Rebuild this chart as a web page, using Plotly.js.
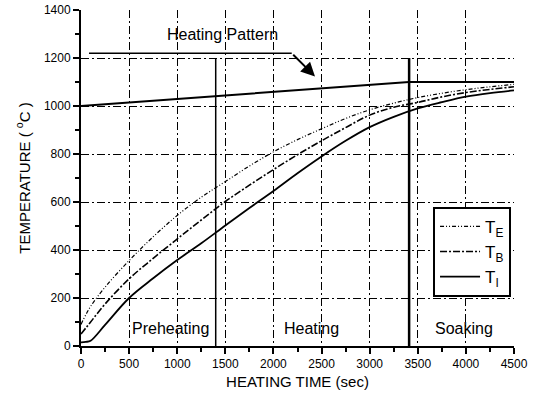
<!DOCTYPE html>
<html>
<head>
<meta charset="utf-8">
<script src="https://cdn.plot.ly/plotly-3.0.1.min.js"></script>
<style>
  html, body { margin: 0; padding: 0; background: #fff; }
  #chart { width: 536px; height: 395px; }
</style>
</head>
<body>
<div id="chart"></div>
<script>
// Heating time (s)
const time = [0, 50, 100, 250, 500, 750, 1000, 1250, 1500, 1750, 2000, 2250, 2500, 2750, 3000, 3250, 3500, 3750, 4000, 4250, 4500];
// Temperatures (deg C) at edge, body and interior
const tempE = [90, 130, 165, 245, 356, 455, 544, 620, 685, 750, 809, 860, 905, 948, 984, 1012, 1035, 1053, 1068, 1080, 1090];
const tempB = [50, 75, 100, 175, 280, 365, 446, 525, 602, 670, 735, 797, 855, 910, 962, 995, 1015, 1038, 1056, 1069, 1080];
const tempI = [15, 17, 22, 88, 200, 282, 358, 428, 502, 575, 646, 720, 790, 855, 912, 955, 990, 1016, 1039, 1054, 1065];

// Furnace heating pattern
const patternTime = [0, 3410, 4500];
const patternTemp = [1000, 1100, 1100];

// Zone boundaries and labels
const zoneBounds = [1400, 3410];
const zoneTop = 1200;
const zoneNames = ['Preheating', 'Heating', 'Soaking'];
const zoneLabelX = [925, 2400, 3980];
const zoneLabelY = 75;

// "Heating Pattern" leader line
const leaderX = [83, 2190];
const leaderY = [1220, 1220];
const arrowTip = [2432, 1123];
const patternLabel = { text: 'Heating Pattern', x: 1475, y: 1296 };

const font = 'Liberation Sans, Arial, sans-serif';
const gridDash = '8px,3px,2px,3px';

const traces = [
  { x: time, y: tempE, name: 'T<sub>E</sub>', mode: 'lines', line: { color: '#000', width: 1.2, dash: '4px,2px,1px,2px,1px,2px', shape: 'spline' } },
  { x: time, y: tempB, name: 'T<sub>B</sub>', mode: 'lines', line: { color: '#000', width: 1.6, dash: '7px,2px,2px,2px', shape: 'spline' } },
  { x: time, y: tempI, name: 'T<sub>I</sub>', mode: 'lines', line: { color: '#000', width: 1.8, shape: 'spline' } },
  { x: patternTime, y: patternTemp, mode: 'lines', showlegend: false, hoverinfo: 'skip', line: { color: '#000', width: 2 } },
  { x: leaderX, y: leaderY, mode: 'lines', showlegend: false, hoverinfo: 'skip', line: { color: '#000', width: 1.5 } }
];

const shapes = zoneBounds.map((b, i) => ({
  type: 'line', xref: 'x', yref: 'y', x0: b, x1: b, y0: 0, y1: zoneTop,
  line: { color: '#000', width: i === 0 ? 1.5 : 2.5 }
}));

const annotations = zoneNames.map((n, i) => ({
  x: zoneLabelX[i], y: zoneLabelY, xref: 'x', yref: 'y', text: n, showarrow: false,
  font: { family: font, size: 16, color: '#000' }, bgcolor: 'rgba(255,255,255,0)'
}));
annotations.push({
  x: patternLabel.x, y: patternLabel.y, xref: 'x', yref: 'y', text: patternLabel.text,
  showarrow: false, font: { family: font, size: 16, color: '#000' }
});
annotations.push({
  x: arrowTip[0], y: arrowTip[1], xref: 'x', yref: 'y',
  ax: leaderX[1], ay: leaderY[1], axref: 'x', ayref: 'y',
  text: '', showarrow: true, arrowhead: 2, arrowsize: 1.4, arrowwidth: 2, arrowcolor: '#000'
});

const layout = {
  width: 536, height: 395,
  margin: { l: 81, r: 22, t: 10, b: 49 },
  paper_bgcolor: '#fff', plot_bgcolor: '#fff',
  font: { family: font, color: '#000', size: 12 },
  showlegend: true,
  legend: {
    x: 0.813, y: 0.414, xanchor: 'left', yanchor: 'top',
    bgcolor: '#fff', bordercolor: '#000', borderwidth: 2,
    font: { family: font, size: 17, color: '#000' },
    tracegroupgap: 0, itemwidth: 40
  },
  xaxis: {
    range: [0, 4500], dtick: 500, tick0: 0,
    showline: true, linecolor: '#000', linewidth: 2,
    ticks: 'outside', ticklen: 6, tickwidth: 2, tickcolor: '#000',
    minor: { dtick: 250, ticks: 'outside', ticklen: 4, tickwidth: 2, tickcolor: '#000', showgrid: false },
    showgrid: true, gridcolor: '#000', gridwidth: 1, griddash: gridDash,
    zeroline: false,
    tickfont: { family: font, size: 12 },
    title: { text: 'HEATING TIME (sec)', font: { family: font, size: 15 }, standoff: 6 }
  },
  yaxis: {
    range: [0, 1400], dtick: 200, tick0: 0,
    showline: true, linecolor: '#000', linewidth: 2,
    ticks: 'outside', ticklen: 6, tickwidth: 2, tickcolor: '#000',
    minor: { dtick: 100, ticks: 'outside', ticklen: 4, tickwidth: 2, tickcolor: '#000', showgrid: false },
    showgrid: true, gridcolor: '#000', gridwidth: 1, griddash: gridDash,
    zeroline: false,
    tickfont: { family: font, size: 12 },
    title: { text: 'TEMPERATURE ( <sup>o</sup>C )', font: { family: font, size: 15 }, standoff: 10 }
  },
  shapes: shapes,
  annotations: annotations
};

Plotly.newPlot('chart', traces, layout, { displayModeBar: false, staticPlot: true });
</script>
</body>
</html>
